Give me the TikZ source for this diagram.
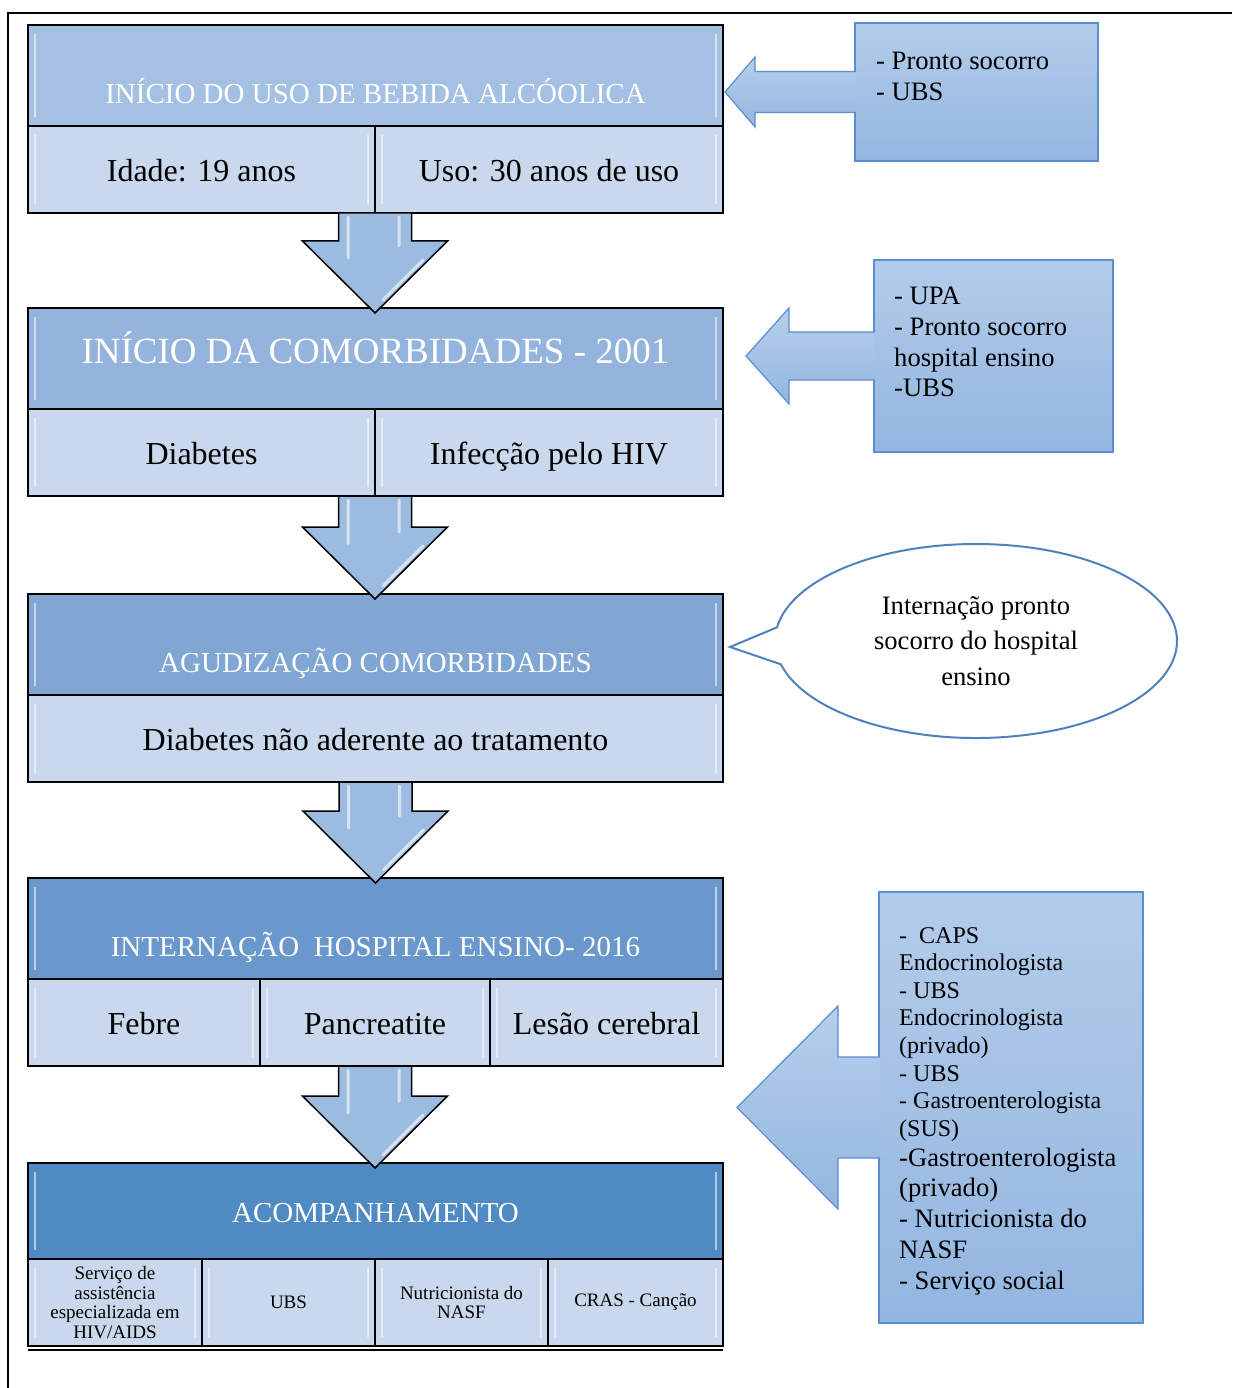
\documentclass[tikz,border=0pt]{standalone}
\usepackage{fontspec}
\setmainfont{Liberation Serif}
\usetikzlibrary{positioning,calc,shapes.callouts}

\definecolor{cabA}{HTML}{A4C1E4}
\definecolor{cabB}{HTML}{95B4DD}
\definecolor{cabC}{HTML}{80A6D4}
\definecolor{cabD}{HTML}{6B98CC}
\definecolor{cabE}{HTML}{508AC3}
\definecolor{celula}{HTML}{C9D8EC}
\definecolor{setaazul}{HTML}{9CBBE1}
\definecolor{ladotopo}{HTML}{B3CCEA}
\definecolor{ladobase}{HTML}{93B6E0}
\definecolor{ladoborda}{HTML}{5B8ED0}
\definecolor{balaoborda}{HTML}{4F81BD}

\tikzset{
  bisel/.style={path picture={
    \draw[white, opacity=.55, line width=2pt]
      ([xshift=7pt,yshift=-9pt]path picture bounding box.north west) -- ([xshift=7pt,yshift=9pt]path picture bounding box.south west)
      ([xshift=-7pt,yshift=-9pt]path picture bounding box.north east) -- ([xshift=-7pt,yshift=9pt]path picture bounding box.south east);
  }},
  bloco/.style={draw=black, line width=1.5pt, inner sep=0pt, outer sep=0pt, anchor=north west, bisel},
  cab/.style={bloco, minimum width=695, minimum height=101, text=white, font=\fontsize{29}{34}\selectfont, text depth=0pt},
  celbase/.style={bloco, fill=celula, minimum height=87},
  cel/.style={celbase, font=\fontsize{32}{38}\selectfont, text height=26pt, text depth=2pt},
  celp/.style={celbase, align=center, font=\fontsize{19}{19.5}\selectfont},
  lado/.style={draw=ladoborda, line width=1.2pt, top color=ladotopo, bottom color=ladobase, anchor=north west, inner sep=0pt, outer sep=0pt},
  ladotxt/.style={anchor=north west, inner sep=0pt, align=left, font=\fontsize{26.6}{30.7}\selectfont},
  setalado/.style={draw=ladoborda, line width=1.2pt, top color=ladotopo!95!white, bottom color=ladobase},
  setabaixo/.style={draw=black, line width=1.5pt, fill=setaazul, line join=miter},
  brilho/.style={white, opacity=.6, line width=3pt, line cap=round},
}

% seta para baixo entre os blocos
\newcommand{\flecha}[2]{%
  \draw[setabaixo] let \p1=(#1), \p2=(#2) in
    (\x1-36.5pt,\y1) -- (\x1-36.5pt,\y2+67pt) -- (\x1-72.5pt,\y2+67pt) -- (\x1,\y2-5pt)
    -- (\x1+72.5pt,\y2+67pt) -- (\x1+36.5pt,\y2+67pt) -- (\x1+36.5pt,\y1) -- cycle;
  \draw[brilho] let \p1=(#1), \p2=(#2) in
    (\x1-27pt,\y1-4pt) -- (\x1-27pt,\y2+50pt)
    (\x1+24pt,\y1-4pt) -- (\x1+24pt,\y2+62pt)
    (\x1+8pt,\y2+8pt) -- (\x1+48pt,\y2+48pt);
}

% seta lateral: caixa, haste, meia haste, meia cabeca, cabeca
\newcommand{\setalateral}[5]{%
  \path[setalado] ([xshift=1pt]#1.west) ++(0,-#3) -- ++({-#2-1},0) -- ++(0,{-(#4-#3)})
    -- ++(-#5,#4) -- ++(#5,#4) -- ++(0,{-(#4-#3)}) -- ++({#2+1},0);
}

\begin{document}
\begin{tikzpicture}[x=1pt, y=-1pt]
\useasboundingbox (0,0) rectangle (1232,1388);

% moldura
\draw[line width=2pt] (1232,13) -- (8,13) -- (8,1388);

%--- Bloco 1 ---
\node[cab, fill=cabA, text height=56pt] (inicio) at (28,25) {INÍCIO DO USO DE BEBIDA ALCÓOLICA};
\node[cel, minimum width=347] (idade) at (inicio.south west) {Idade: 19 anos};
\node[cel, minimum width=348] (uso) at (idade.north east) {Uso: 30 anos de uso};

%--- Bloco 2 ---
\node[cab, fill=cabB, text height=9.5pt, font=\fontsize{37}{42}\selectfont] (comorb) at (28,308) {INÍCIO DA COMORBIDADES - 2001};
\node[cel, minimum width=347] (diabetes) at (comorb.south west) {Diabetes};
\node[cel, minimum width=348] (hiv) at (diabetes.north east) {Infecção pelo HIV};

%--- Bloco 3 ---
\node[cab, fill=cabC, text height=55pt] (agud) at (28,594) {AGUDIZAÇÃO COMORBIDADES};
\node[cel, minimum width=695] (aderente) at (agud.south west) {Diabetes não aderente ao tratamento};

%--- Bloco 4 ---
\node[cab, fill=cabD, text height=55pt] (intern) at (28,878) {INTERNAÇÃO\ \ HOSPITAL ENSINO- 2016};
\node[cel, minimum width=232] (febre) at (intern.south west) {Febre};
\node[cel, minimum width=230] (pancr) at (febre.north east) {Pancreatite};
\node[cel, minimum width=233] (lesao) at (pancr.north east) {Lesão cerebral};

%--- Bloco 5 ---
\node[cab, fill=cabE, minimum height=96, text height=23pt] (acomp) at (28,1163) {ACOMPANHAMENTO};
\node[celp, minimum width=174] (sae) at (acomp.south west) {Serviço de\\assistência\\especializada em\\HIV/AIDS};
\node[celp, minimum width=173] (ubs) at (sae.north east) {UBS};
\node[celp, minimum width=173] (nasf) at (ubs.north east) {Nutricionista do\\NASF};
\node[celp, minimum width=175] (cras) at (nasf.north east) {CRAS - Canção};
\draw[line width=1.5pt] ([yshift=-4pt]sae.south west) -- ([yshift=-4pt]cras.south east);

% setas entre os blocos
\flecha{idade.south east}{comorb.north}
\flecha{diabetes.south east}{agud.north}
\flecha{aderente.south}{intern.north}
\flecha{pancr.south}{acomp.north}

%--- Caixas laterais ---
\node[lado, minimum width=243, minimum height=138] (caixaA) at (855,23) {};
\node[ladotxt] (txtA) at ([xshift=21pt,yshift=-29pt]caixaA.north west) {- Pronto socorro\\- UBS};
\setalateral{caixaA}{100}{20.5}{35}{30}

\node[lado, minimum width=239, minimum height=192] (caixaB) at (874,260) {};
\node[ladotxt] (txtB) at ([xshift=20pt,yshift=-27pt]caixaB.north west) {- UPA\\- Pronto socorro\\hospital ensino\\-UBS};
\setalateral{caixaB}{85}{24}{48}{43}

\node[lado, minimum width=264, minimum height=431] (caixaC) at (879,892) {};
\setalateral{caixaC}{41}{50.5}{101.5}{101}
\node[ladotxt, font=\fontsize{24}{27.6}\selectfont] (txtC) at ([xshift=20pt,yshift=-35pt]caixaC.north west)
  {-~ CAPS\\Endocrinologista\\- UBS\\Endocrinologista\\(privado)\\- UBS\\- Gastroenterologista\\(SUS)};
\node[ladotxt, below=6pt of txtC.south west, anchor=north west] (txtC2)
  {-Gastroenterologista\\(privado)\\- Nutricionista do\\NASF\\- Serviço social};

% balao
\node[ellipse callout, draw=balaoborda, line width=2pt, fill=white, minimum width=402, minimum height=194,
  callout pointer arc=22, callout absolute pointer={($(agud.east)+(7,2.5)$)},
  align=center, font=\fontsize{26.6}{35.5}\selectfont] (balao) at (976,641)
  {Internação pronto\\socorro do hospital\\ensino};

\end{tikzpicture}
\end{document}
